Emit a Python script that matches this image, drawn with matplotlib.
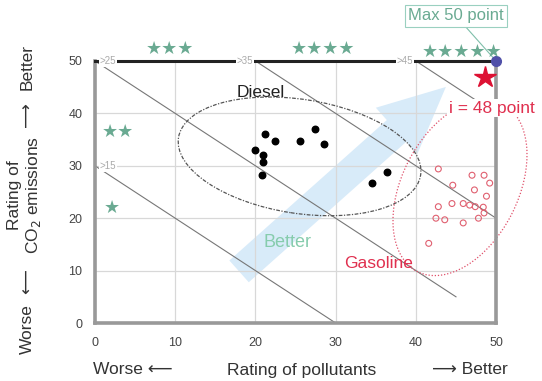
import matplotlib
matplotlib.use("Agg")
import matplotlib.pyplot as plt
from matplotlib.patches import Ellipse, FancyArrowPatch
from matplotlib.transforms import ScaledTranslation
import numpy as np

plt.rcParams['font.family'] = ['Liberation Sans', 'DejaVu Sans']

# ---- data ----
diesel_x = [21.2, 22.4, 25.5, 27.4, 28.5, 19.9, 20.9, 20.9, 20.8, 36.4, 34.5]
diesel_y = [36.1, 34.8, 34.8, 37.0, 34.1, 33.1, 32.1, 30.8, 28.2, 28.8, 26.8]

gasoline_x = [42.8, 47.0, 48.5, 49.2, 44.6, 47.3, 48.8, 44.5, 42.8, 45.9, 46.7,
              47.4, 48.4, 48.5, 42.5, 43.6, 47.8, 45.9, 41.6]
gasoline_y = [29.4, 28.2, 28.2, 26.7, 26.3, 25.4, 24.2, 22.8, 22.2, 22.8, 22.5,
              22.2, 22.1, 21.0, 20.0, 19.7, 20.0, 19.1, 15.2]

target_x, target_y = 48.6, 46.9      # "i = 48 point"
max_x, max_y = 50, 50                # "Max 50 point"

# iso-score lines: x + y = 2 * total
score_totals = [15, 25, 35, 45]
score_x_start = [0, 0, 20, 40]
score_x_end = [30, 45, 50, 50]
score_labels = [">15", ">25", ">35", ">45"]

ticks = [0, 10, 20, 30, 40, 50]

teal = "#6aaa92"
red = "#e0304f"
txt = "#333333"

fig = plt.figure(figsize=(5.42, 3.81), dpi=100)
ax = fig.add_axes([0.1753, 0.1522, 0.740, 0.6877])
ax.set_xlim(0, 50)
ax.set_ylim(0, 50)

ax.set_xticks(ticks)
ax.set_yticks(ticks)
ax.tick_params(length=0, labelsize=9, colors="#444444")
ax.tick_params(axis="x", pad=10)
ax.tick_params(axis="y", pad=9)
ax.grid(True, color="#d8d8d8", lw=0.9)
ax.set_axisbelow(True)

for s in ["left", "bottom", "right"]:
    ax.spines[s].set_color("#999999")
    ax.spines[s].set_linewidth(2.6)
ax.spines["top"].set_color("#222222")
ax.spines["top"].set_linewidth(2.2)

# big light-blue "Better" arrow
arrow = FancyArrowPatch((17.7, 9.5), (44.0, 45.4),
                        arrowstyle="simple,head_width=3.2,head_length=3.4,tail_width=1.5",
                        mutation_scale=14, color="#d8ebf9", lw=0, zorder=0.5)
ax.add_patch(arrow)
ax.text(24.0, 15.3, "Better", color="#86ccad", fontsize=13, ha="center", va="center")

# iso-score lines
for tot, x0, x1, lab in zip(score_totals, score_x_start, score_x_end, score_labels):
    xs = np.array([x0, x1])
    ax.plot(xs, 2 * tot - xs, color="#777777", lw=0.8, zorder=1)
    if x0 == 0:
        lx, ha = x0 + 0.6, "left"
    else:
        lx, ha = x0 - 0.3, "right"
    ax.text(lx, 2 * tot - x0, lab, fontsize=7, color="#aaaaaa", ha=ha, va="center",
            bbox=dict(boxstyle="square,pad=0.1", fc="white", ec="none"), zorder=3, clip_on=False)

# ellipses (sized in inches, centred in data coords)
def add_ellipse(cx, cy, w_in, h_in, angle, **kw):
    tr = fig.dpi_scale_trans + ScaledTranslation(cx, cy, ax.transData)
    e = Ellipse((0, 0), w_in, h_in, angle=angle, transform=tr, fill=False, **kw)
    e.set_clip_on(False)
    ax.add_patch(e)

add_ellipse(25.5, 31.8, 2.45, 1.14, -8.8, ec="#555555", lw=0.9, ls=(0, (3, 1.2, 1, 1.2)), zorder=2)
add_ellipse(45.5, 25.8, 1.88, 1.16, 63, ec="#e0506a", lw=0.9, ls=(0, (1, 1.5)), zorder=2)

# points
ax.scatter(diesel_x, diesel_y, s=22, color="black", zorder=4)
ax.scatter(gasoline_x, gasoline_y, s=18, facecolor="none", edgecolor="#e06070", lw=0.8, zorder=4)

ax.text(20.6, 44.0, "Diesel", fontsize=12.5, color="#222222", ha="center", va="center")
ax.text(35.4, 11.3, "Gasoline", fontsize=12.5, color=red, ha="center", va="center")

ax.plot([target_x], [target_y], marker="*", color="#dd1133", markersize=16, zorder=5, clip_on=False)
ax.plot([max_x], [max_y], marker="o", color="#5050a8", markersize=7, zorder=6, clip_on=False)

ax.text(44.1, 41.0, "i = 48 point", fontsize=12.5, color=red, ha="left", va="center",
        bbox=dict(boxstyle="square,pad=0.1", fc="white", ec="none"), zorder=5, clip_on=False)

ax.annotate("Max 50 point", xy=(max_x, max_y), xytext=(45.0, 58.6), fontsize=12, color=teal,
            ha="center", va="center", annotation_clip=False,
            bbox=dict(boxstyle="square,pad=0.2", fc="white", ec="#9ad0c0", lw=0.8),
            arrowprops=dict(arrowstyle="-", color="#7fbfaa", lw=0.8, shrinkA=0, shrinkB=2))

# star rating labels
star_kw = dict(color=teal, fontsize=13, ha="center", va="center", clip_on=False, zorder=6,
               family=["DejaVu Sans"])
ax.text(9.4, 52.3, "★★★", **star_kw)
ax.text(28.4, 52.3, "★★★★", **star_kw)
ax.text(45.8, 51.8, "★★★★★", **star_kw)
ax.text(2.9, 36.5, "★★", **star_kw)
ax.text(2.1, 22.0, "★", **star_kw)

# axis side labels
fs = 12.5
lab_kw = dict(fontsize=fs, color=txt, ha="center", va="center")
fig.text(93 / 542, 1 - 370 / 381, "Worse ⟵", ha="left", va="center", fontsize=fs, color=txt)
fig.text(302 / 542, 1 - 370 / 381, "Rating of pollutants", **lab_kw)
fig.text(508 / 542, 1 - 370 / 381, "⟶ Better", ha="right", va="center", fontsize=fs, color=txt)

fig.text(27 / 542, 1 - 67 / 381, "Better", rotation=90, **lab_kw)
fig.text(27 / 542, 1 - 115 / 381, "⟶", rotation=90, **lab_kw)
fig.text(25 / 542, 1 - 195 / 381, "Rating of\nCO$_2$ emissions", rotation=90,
         multialignment="center", linespacing=1.1, **lab_kw)
fig.text(27 / 542, 1 - 282 / 381, "⟵", rotation=90, **lab_kw)
fig.text(27 / 542, 1 - 329 / 381, "Worse", rotation=90, **lab_kw)

fig.savefig("out.png", dpi=100)
